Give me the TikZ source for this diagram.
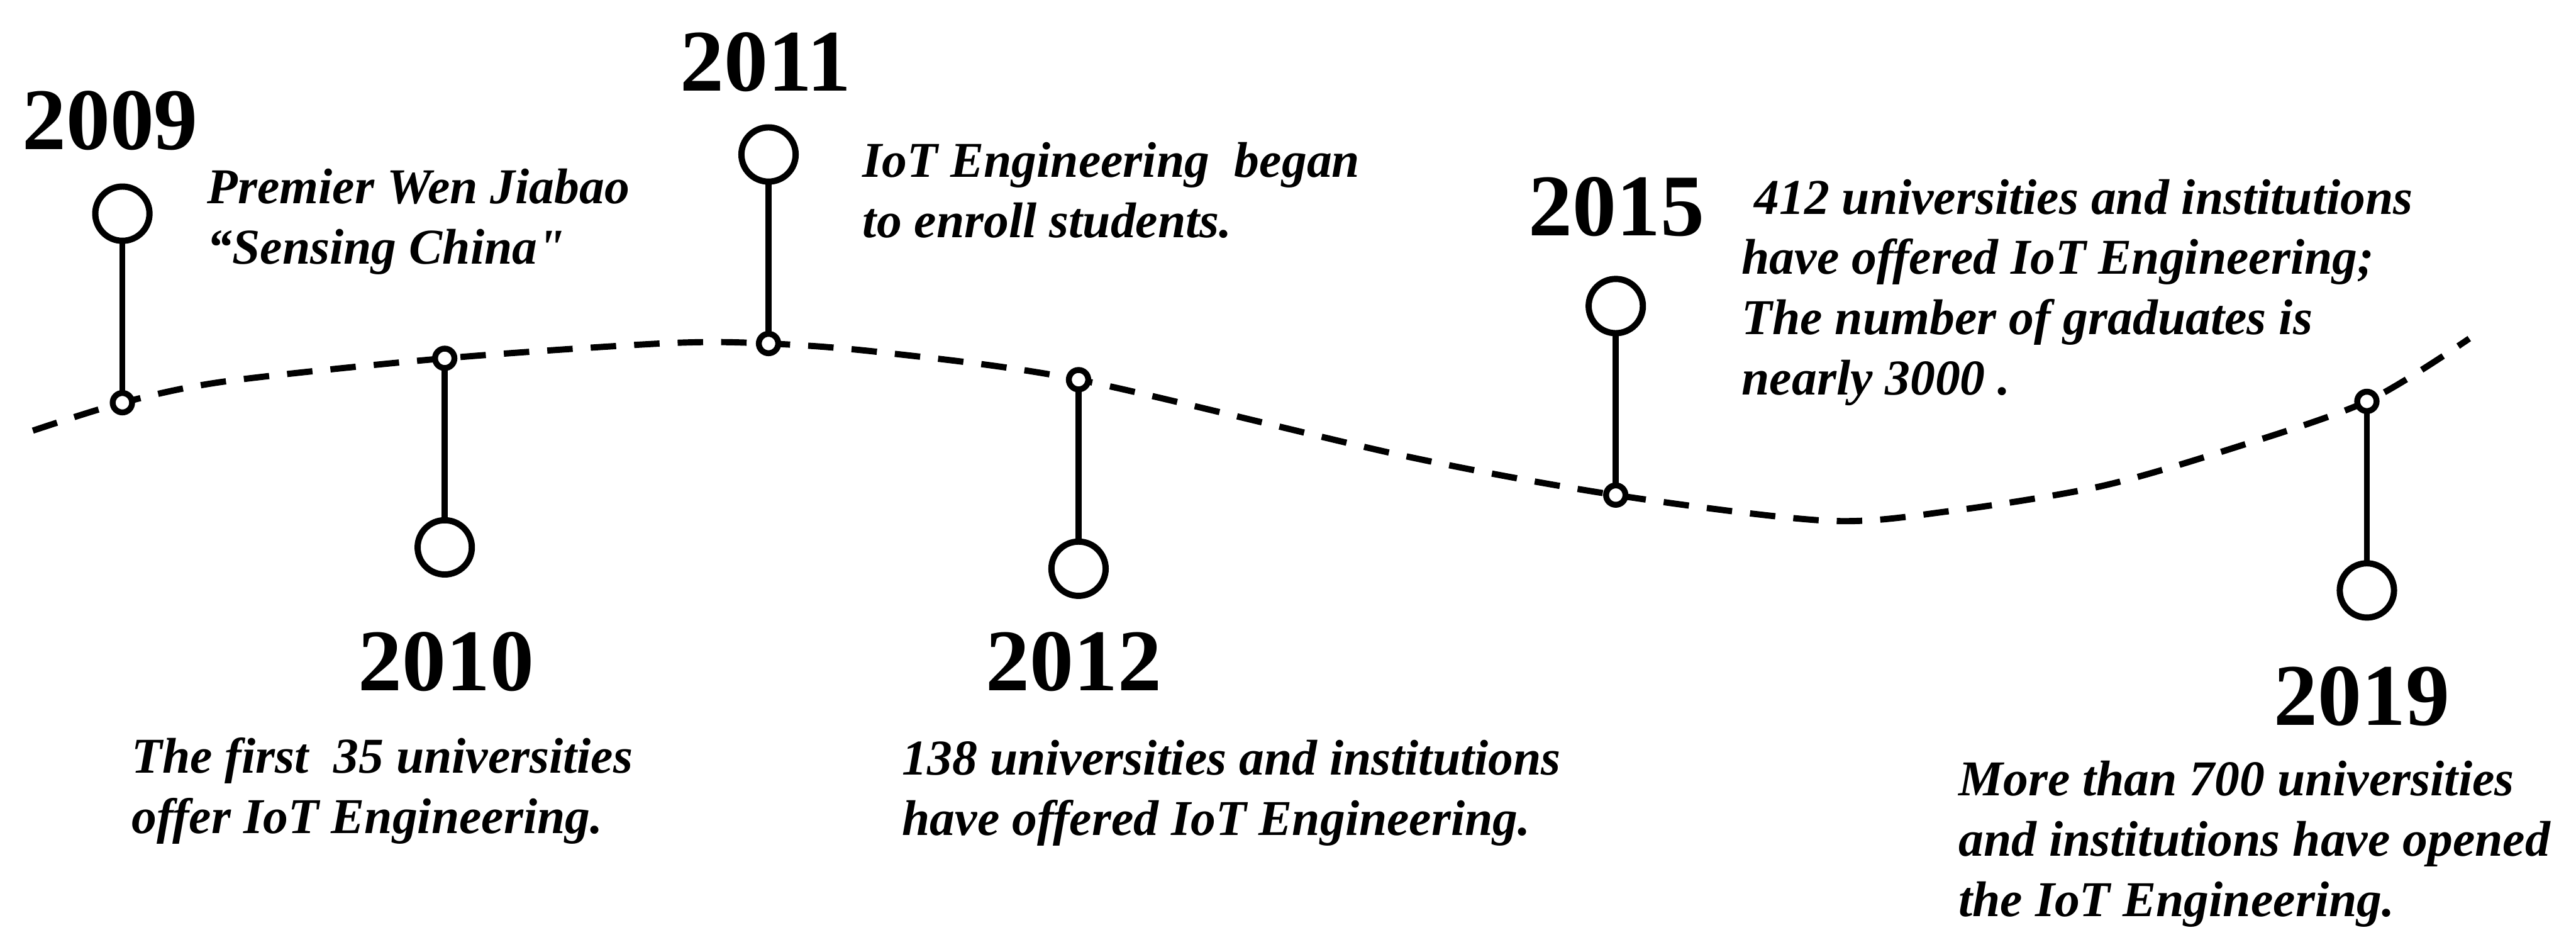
\documentclass[tikz,border=0pt]{standalone}
\usepackage{fontspec}
\setmainfont{Liberation Serif}[Ligatures=TeXOff]
\usetikzlibrary{positioning}

\begin{document}
\begin{tikzpicture}[x=1pt,y=-1pt,node distance=92.6pt,
  smalldot/.style={circle,draw,line width=3.6pt,fill=white,minimum size=11.8pt,inner sep=0pt,outer sep=0pt},
  bigdot/.style={circle,draw,line width=3.8pt,fill=white,minimum size=33pt,inner sep=0pt,outer sep=0pt},
  stem/.style={line width=3.6pt},
  wave/.style={line width=3.8pt,dash pattern=on 15.5pt off 11pt},
  year/.style={font=\fontsize{53.5pt}{60pt}\selectfont\bfseries,anchor=base,inner sep=0pt},
  note/.style={font=\fontsize{30.5pt}{36.7pt}\selectfont\bfseries\itshape,align=left,anchor=base west,inner sep=0pt}]
\useasboundingbox (0,0) rectangle (1568,579);
% points on the wave
\coordinate (p09) at (74.5,245);
\coordinate (p10) at (270.7,218);
\coordinate (p11) at (467.8,209);
\coordinate (p12) at (656.5,231);
\coordinate (p15) at (983.5,301.2);
\coordinate (p19) at (1440.7,244.2);
\draw[wave] plot[smooth] coordinates {(20,262) (p09) (137.5,232) (p10) (406,208.8) (p11) (537,214.4)
  (p12) (854,277.2) (p15) (1112,316.8) (1186.5,311) (1278,296) (1358,273) (p19) (1503,206)};
% markers
\node[smalldot] (d09) at (p09) {};
\node[smalldot] (d10) at (p10) {};
\node[smalldot] (d11) at (p11) {};
\node[smalldot] (d12) at (p12) {};
\node[smalldot] (d15) at (p15) {};
\node[smalldot] (d19) at (p19) {};
\node[bigdot,above=of d09] (c09) {};
\node[bigdot,below=of d10] (c10) {};
\node[bigdot,above=of d11] (c11) {};
\node[bigdot,below=of d12] (c12) {};
\node[bigdot,above=of d15] (c15) {};
\node[bigdot,below=of d19] (c19) {};
\foreach \y in {09,10,11,12,15,19}
  \draw[stem] (d\y) -- (c\y);
% years
\node[year] (y09) at (67,91) {2009};
\node[year] (y10) at (271.5,420) {2010};
\node[year] (y11) at (466,55.5) {2011};
\node[year] (y12) at (653.5,420) {2012};
\node[year] (y15) at (984,143.4) {2015};
\node[year] (y19) at (1437.7,441) {2019};
% events (anchored at the last line)
\node[note] (t09) at (126,160.5) {Premier Wen Jiabao\\“Sensing China"};
\node[note] (t10) at (80,507) {The first\ \ 35 universities\\offer IoT Engineering.};
\node[note] (t11) at (525,144.6) {IoT Engineering\ \ began\\to enroll students.};
\node[note] (t12) at (549,508.3) {138 universities and institutions\\have offered IoT Engineering.};
\node[note] (t15) at (1060,240.3) {\ 412 universities and institutions\\have offered IoT Engineering;\\The number of graduates is\\nearly 3000 .};
\node[note] (t19) at (1192,557.5) {More than 700 universities\\and institutions have opened\\the IoT Engineering.};
\end{tikzpicture}
\end{document}
